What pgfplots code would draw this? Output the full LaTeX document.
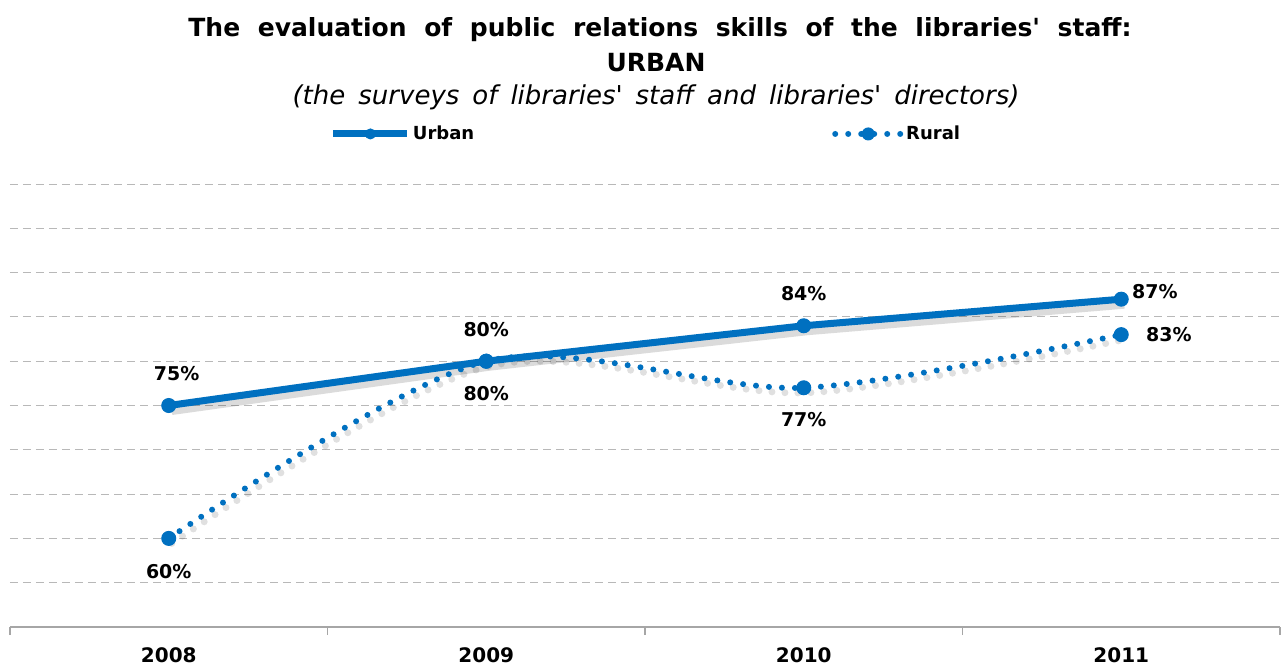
\documentclass[border=0pt]{standalone}
\usepackage{pgfplots}
\pgfplotsset{compat=1.18}
\usepackage{fontspec}
\setmainfont{DejaVu Sans}
\definecolor{blu}{HTML}{0070C0}
\definecolor{gridc}{HTML}{A6A6A6}
\pgfplotsset{
  urbanleg/.style={legend image code/.code={\draw[mark repeat=2, mark phase=2, ##1, mark size=2.5pt] plot coordinates {(0pt,0pt) (18.5pt,0pt) (37pt,0pt)};}},
  ruralleg/.style={legend image code/.code={\draw[mark repeat=2, mark phase=2, ##1, mark size=3pt] plot coordinates {(0pt,0pt) (16.5pt,0pt) (33pt,0pt)};}},
}
\newcommand\q{\textquotesingle}
\begin{document}
\begin{tikzpicture}
\useasboundingbox (0,0) rectangle (640.5pt,333pt);
\node[font=\bfseries\fontsize{12.5}{14}\selectfont] at (330pt,318pt) {\spaceskip=8.8pt The evaluation of public relations skills of the libraries\q{} staff:};
\node[font=\bfseries\fontsize{12.5}{14}\selectfont] at (328pt,301.5pt) {URBAN};
\node[font=\itshape\fontsize{13}{15}\selectfont] at (328pt,284.5pt) {\spaceskip=6.5pt (the surveys of libraries\q{} staff and libraries\q{} directors)};
\begin{axis}[
  at={(5pt,19.5pt)}, anchor=south west, scale only axis,
  width=635pt, height=221.5pt,
  xmin=-0.5, xmax=3.5, ymin=50, ymax=100,
  xtick={0,1,2,3}, xticklabels={2008,2009,2010,2011},
  minor xtick={-0.5,0.5,1.5,2.5,3.5},
  major x tick style={draw=none},
  minor x tick style={gridc, line width=0.6pt},
  minor tick length=4pt, tick align=outside,
  ytick={55,60,...,100}, yticklabels={}, ytick style={draw=none},
  ymajorgrids, grid style={gridc!80, line width=0.5pt, dash pattern=on 4pt off 2.5pt},
  axis x line*=bottom, axis y line*=left,
  y axis line style={draw=none},
  x axis line style={gridc, line width=0.8pt, -},
  xticklabel style={font=\bfseries\fontsize{10}{12}\selectfont, yshift=-2.5pt},
  clip=false,
  legend columns=2,
  legend style={at={(0.5008,1.113)}, anchor=center, draw=none, fill=none,
    font=\bfseries\fontsize{9}{10}\selectfont,
    nodes={inner xsep=1pt},
    /tikz/every even column/.append style={column sep=178pt}},
  legend cell align=left,
]
% shadows
\addplot[black, opacity=0.14, line width=4.5pt, shift={(1.5pt,-2.5pt)}, forget plot] coordinates {(0,75) (1,80) (2,84) (3,87)};
\addplot[black, opacity=0.12, line width=3.5pt, smooth, dash pattern=on 0pt off 6.5pt, line cap=round, shift={(1.5pt,-2.5pt)}, forget plot] coordinates {(0,60) (1,80) (2,77) (3,83)};
% data
\addplot[blu, line width=3.5pt, mark=*, mark size=3.5pt, mark options={solid, fill=blu, line width=0.5pt}, urbanleg]
  coordinates {(0,75) (1,80) (2,84) (3,87)};
\addlegendentry{Urban}
\addplot[blu, line width=3pt, smooth, dash pattern=on 0pt off 6.5pt, line cap=round, mark=*, mark size=3.5pt, mark options={solid, fill=blu, line width=0.5pt}, ruralleg]
  coordinates {(0,60) (1,80) (2,77) (3,83)};
\addlegendentry{Rural}
% labels
\begin{scope}[every node/.style={font=\bfseries\fontsize{9.5}{11}\selectfont}]
\node at (axis cs:0.025,78.55) {75\%};
\node at (axis cs:1,83.6) {80\%};
\node at (axis cs:2,87.6) {84\%};
\node at (axis cs:3.106,87.9) {87\%};
\node at (axis cs:0,56.2) {60\%};
\node at (axis cs:1,76.3) {80\%};
\node at (axis cs:2,73.4) {77\%};
\node at (axis cs:3.15,83.0) {83\%};
\end{scope}
\end{axis}
\end{tikzpicture}
\end{document}
